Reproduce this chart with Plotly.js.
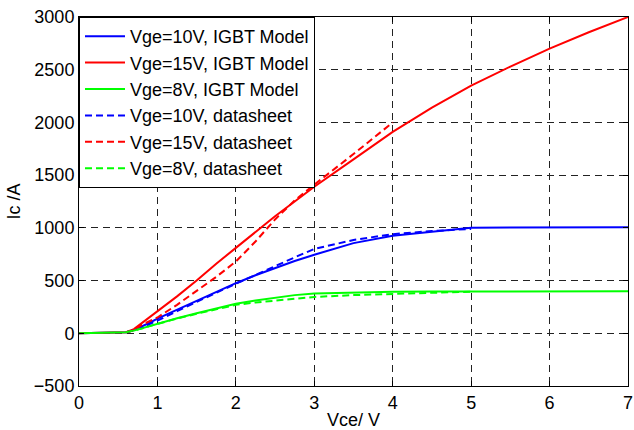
<!DOCTYPE html>
<html>
<head>
<meta charset="utf-8">
<script src="https://cdn.plot.ly/plotly-3.0.1.min.js"></script>
<style>html,body{margin:0;padding:0;background:#fff;}#chart{width:634px;height:430px;}</style>
</head>
<body>
<div id="chart"></div>
<script>
// Model curves (Vce in V, Ic in A)
var vceModel = [0, 0.3, 0.6, 0.7, 0.8, 0.9, 1.0, 1.25, 1.5, 1.75, 2.0, 2.25, 2.5, 2.75, 3.0, 3.5, 4.0, 4.5, 5.0, 5.5, 6.0, 6.5, 7.0];
var icModel10 = [0, 3, 10, 30, 63, 100, 140, 225, 310, 395, 475, 550, 620, 685, 745, 855, 925, 965, 1000, 1003, 1004, 1005, 1005];
var icModel15 = [0, 3, 10, 40, 95, 150, 205, 350, 500, 660, 810, 960, 1110, 1250, 1390, 1650, 1910, 2140, 2350, 2530, 2700, 2855, 3000];
var icModel8  = [0, 3, 10, 25, 47, 70, 92, 142, 190, 237, 280, 312, 340, 362, 378, 390, 395, 397, 398, 398, 398, 398, 398];

// Datasheet curves
var vceDs10 = [0.6, 0.7, 0.8, 0.9, 1.0, 1.25, 1.5, 1.75, 2.0, 2.25, 2.5, 2.75, 3.0, 3.5, 4.0, 4.5, 5.0];
var icDs10  = [10, 28, 55, 85, 120, 210, 300, 385, 470, 555, 640, 720, 800, 885, 940, 970, 990];
var vceDs15 = [0.6, 0.7, 0.8, 0.9, 1.0, 1.25, 1.5, 1.75, 2.0, 2.25, 2.5, 2.75, 3.0, 3.5, 4.0];
var icDs15  = [10, 30, 79, 115, 150, 270, 400, 535, 680, 870, 1080, 1260, 1410, 1700, 2000];
var vceDs8  = [0.6, 0.7, 0.8, 0.9, 1.0, 1.25, 1.5, 1.75, 2.0, 2.25, 2.5, 2.75, 3.0, 3.5, 4.0, 4.5, 5.0];
var icDs8   = [10, 25, 45, 68, 90, 140, 185, 230, 270, 292, 310, 330, 345, 362, 375, 388, 395];

var seriesNames = ['Vge=10V, IGBT Model', 'Vge=15V, IGBT Model', 'Vge=8V, IGBT Model',
                   'Vge=10V, datasheet', 'Vge=15V, datasheet', 'Vge=8V, datasheet'];
var xTickVals = [0, 1, 2, 3, 4, 5, 6, 7];
var yTickVals = [-500, 0, 500, 1000, 1500, 2000, 2500, 3000];

var FONT = 'Liberation Sans, Arial, sans-serif';
var DASH = '7px,4px';

function tr(x, y, name, color, dash) {
  return {x: x, y: y, name: name, type: 'scatter', mode: 'lines',
          line: {color: color, width: 2, dash: dash}};
}

var data = [
  tr(vceModel, icModel10, seriesNames[0], '#0000ff', 'solid'),
  tr(vceModel, icModel15, seriesNames[1], '#ff0000', 'solid'),
  tr(vceModel, icModel8,  seriesNames[2], '#00ff00', 'solid'),
  tr(vceDs10, icDs10, seriesNames[3], '#0000ff', DASH),
  tr(vceDs15, icDs15, seriesNames[4], '#ff0000', DASH),
  tr(vceDs8,  icDs8,  seriesNames[5], '#00ff00', DASH)
];

var axisCommon = {
  showline: true, linecolor: '#000', linewidth: 1, mirror: 'ticks',
  ticks: 'inside', ticklen: 5, tickcolor: '#000', tickwidth: 1,
  showgrid: true, gridcolor: '#222', gridwidth: 1, griddash: '7px,5px',
  zeroline: false, ticklabeloverflow: 'allow',
  tickfont: {family: FONT, size: 18, color: '#000'}
};

var layout = {
  width: 634, height: 430,
  margin: {l: 79, r: 6, t: 17, b: 44, pad: 0},
  paper_bgcolor: '#fff', plot_bgcolor: '#fff',
  font: {family: FONT, size: 18, color: '#000'},
  showlegend: true,
  legend: {x: 0, y: 1, xanchor: 'left', yanchor: 'top',
           bgcolor: '#fff', bordercolor: '#000', borderwidth: 1,
           font: {family: FONT, size: 18, color: '#000'},
           itemwidth: 40},
  xaxis: Object.assign({}, axisCommon, {
    range: [0, 7], tickmode: 'array', tickvals: xTickVals,
    title: {text: 'Vce/ V', font: {family: FONT, size: 18, color: '#000'}, standoff: 4}
  }),
  yaxis: Object.assign({}, axisCommon, {
    range: [-500, 3000], tickmode: 'array', tickvals: yTickVals,
    title: {text: 'Ic /A', font: {family: FONT, size: 18, color: '#000'}, standoff: 8}
  })
};

Plotly.newPlot('chart', data, layout, {displayModeBar: false, staticPlot: true});
</script>
</body>
</html>
